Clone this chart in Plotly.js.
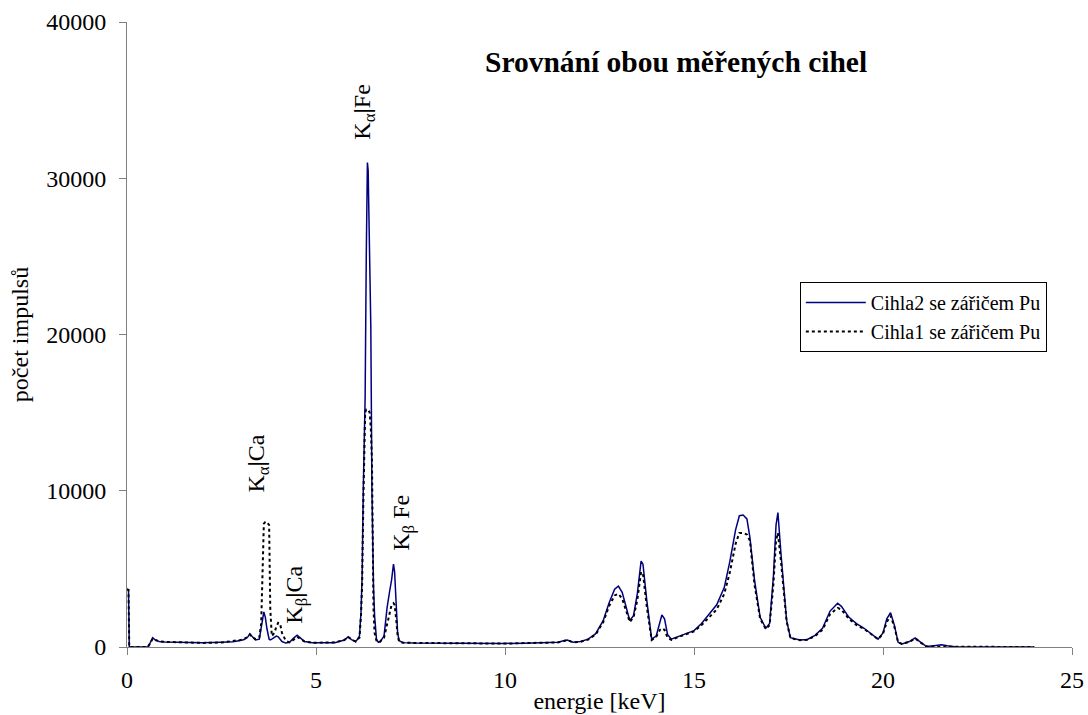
<!DOCTYPE html>
<html>
<head>
<meta charset="utf-8">
<script src="https://cdn.plot.ly/plotly-3.0.1.min.js"></script>
<style>html,body{margin:0;padding:0;background:#fff}#chart{width:1088px;height:715px}</style>
</head>
<body>
<div id="chart"></div>
<script>
// energy [keV]
const energy = [
  0, 0.04, 0.06, 0.55, 0.62, 0.68, 0.75, 0.85, 1.0, 1.5,
  2.0, 2.5, 2.8, 3.0, 3.1, 3.2, 3.25, 3.3, 3.4, 3.5,
  3.55, 3.58, 3.62, 3.66, 3.7, 3.76, 3.79, 3.83, 3.9, 3.95,
  4.0, 4.05, 4.1, 4.2, 4.3, 4.4, 4.5, 4.6, 4.7, 4.9,
  5.2, 5.5, 5.75, 5.85, 5.95, 6.05, 6.1, 6.15, 6.19, 6.22,
  6.25, 6.28, 6.3, 6.33, 6.36, 6.38, 6.42, 6.45, 6.48, 6.5,
  6.52, 6.55, 6.6, 6.65, 6.7, 6.8, 6.88, 6.95, 7.0, 7.05,
  7.08, 7.12, 7.16, 7.2, 7.3, 7.6, 8.0, 8.5, 9.0, 9.5,
  10.0, 10.5, 11.0, 11.4, 11.55, 11.65, 11.8, 12.0, 12.2, 12.4,
  12.6, 12.75, 12.9, 13.0, 13.1, 13.2, 13.3, 13.4, 13.5, 13.6,
  13.65, 13.75, 13.88, 14.0, 14.1, 14.15, 14.22, 14.3, 14.4, 14.6,
  14.8, 15.0, 15.2, 15.4, 15.6, 15.8, 15.95, 16.1, 16.2, 16.3,
  16.4, 16.48, 16.6, 16.75, 16.9, 17.0, 17.1, 17.17, 17.22, 17.3,
  17.38, 17.45, 17.55, 17.8, 18.0, 18.2, 18.4, 18.6, 18.8, 18.9,
  19.1, 19.3, 19.5, 19.7, 19.87, 20.0, 20.1, 20.2, 20.3, 20.4,
  20.5, 20.7, 20.85, 21.0, 21.15, 21.4, 21.55, 21.7, 21.9, 22.5,
  23.0, 24.0
];
// Cihla2 se zářičem Pu
const cihla2 = [
  3700, 3650, 0, 0, 300, 600, 450, 350, 320, 290,
  270, 300, 330, 420, 480, 650, 850, 700, 450, 500,
  1200, 1900, 2250, 1900, 1200, 500, 450, 500, 650, 700,
  650, 500, 350, 250, 300, 550, 750, 550, 350, 280,
  270, 280, 450, 650, 450, 350, 500, 700, 2200, 4500,
  10000, 13500, 16000, 25000, 31000, 30500, 25000, 20500, 10000, 6000,
  4000, 2000, 500, 300, 350, 700, 2500, 3600, 4300, 5300,
  4800, 2800, 900, 400, 280, 250, 240, 260, 230, 220,
  230, 240, 260, 300, 400, 450, 300, 350, 500, 850,
  1700, 2800, 3700, 3900, 3500, 2600, 1700, 2000, 3400, 5500,
  5300, 3000, 500, 700, 1700, 2050, 1800, 800, 500, 700,
  900, 1050, 1500, 2100, 2700, 3800, 5500, 7500, 8400, 8450,
  8200, 7000, 4300, 1900, 1200, 1500, 4500, 7800, 8600, 6000,
  3500, 1700, 600, 450, 480, 750, 1200, 2300, 2800, 2600,
  1900, 1500, 1200, 800, 500, 900, 1800, 2200, 1400, 300,
  200, 350, 580, 300, 30, 100, 150, 80, 10, 0,
  0, 0
];
// Cihla1 se zářičem Pu
const cihla1 = [
  3700, 3650, 0, 0, 250, 550, 450, 370, 330, 300,
  260, 290, 380, 450, 520, 650, 800, 650, 500, 600,
  1500, 4300, 7900, 8000, 8000, 7800, 2500, 700, 900, 1300,
  1550, 1500, 900, 400, 300, 450, 650, 500, 350, 270,
  280, 300, 450, 650, 450, 350, 500, 600, 2000, 4000,
  9000, 14500, 15000, 15200, 15200, 15200, 15000, 14000, 12000, 6000,
  2500, 900, 400, 300, 350, 600, 1500, 2200, 2700, 2800,
  2700, 1800, 700, 350, 280, 260, 250, 240, 240, 230,
  220, 250, 250, 290, 380, 430, 300, 330, 480, 800,
  1600, 2600, 3300, 3400, 3100, 2400, 1600, 1900, 3000, 4800,
  4700, 2600, 450, 650, 1100, 1200, 1100, 600, 450, 650,
  850, 1000, 1400, 1900, 2400, 3400, 4800, 6600, 7300, 7300,
  7200, 6800, 4000, 1800, 1150, 1400, 4000, 6800, 7300, 5500,
  3300, 1650, 580, 440, 460, 700, 1100, 2100, 2500, 2400,
  1800, 1400, 1150, 780, 500, 850, 1600, 2000, 1300, 300,
  200, 330, 550, 280, 30, 20, 20, 10, 0, 0,
  0, 0
];
const seriesNames = ["Cihla2 se zářičem Pu", "Cihla1 se zářičem Pu"];
const peakLabels = ["K<sub>α</sub><b>|</b>Fe", "K<sub>α</sub><b>|</b>Ca", "K<sub>β</sub><b>|</b>Ca", "K<sub>β</sub> Fe"];
const peakX = [6.27, 3.47, 4.47, 7.3];
const peakY = [34200, 11750, 3350, 7950];
const chartTitle = "Srovnání obou měřených cihel";
const xTitle = "energie [keV]";
const yTitle = "počet impulsů";

if (energy.length !== cihla2.length || energy.length !== cihla1.length) {
  console.error("length mismatch", energy.length, cihla2.length, cihla1.length);
}

const FONT = "'Liberation Serif', serif";

const traces = [
  {x: energy, y: cihla2, type: "scatter", mode: "lines", name: seriesNames[0],
   line: {color: "#000080", width: 1.5}},
  {x: energy, y: cihla1, type: "scatter", mode: "lines", name: seriesNames[1],
   line: {color: "#000000", width: 2, dash: "dot"}}
];

const annotations = peakLabels.map((t, i) => ({
  x: peakX[i], y: peakY[i], xref: "x", yref: "y", text: t, showarrow: false,
  textangle: -90, font: {family: FONT, size: 24, color: "#000"},
  xanchor: "center", yanchor: "middle"
}));
annotations.push({
  x: 0.581, y: 0.936, xref: "paper", yref: "paper", text: chartTitle,
  showarrow: false, xanchor: "center", yanchor: "middle",
  font: {family: FONT, size: 29.5, color: "#000", weight: "bold"}
});

const layout = {
  width: 1088, height: 715,
  margin: {l: 127, r: 16, t: 22, b: 68},
  paper_bgcolor: "#fff", plot_bgcolor: "#fff",
  font: {family: FONT, size: 22, color: "#000"},
  showlegend: true,
  legend: {x: 0.712, y: 0.584, xanchor: "left", yanchor: "top",
    bgcolor: "#fff", bordercolor: "#000", borderwidth: 1,
    font: {family: FONT, size: 20, color: "#000"}, itemwidth: 60, tracegroupgap: 0},
  xaxis: {range: [0, 25], dtick: 5, tick0: 0, showgrid: false, zeroline: false,
    showline: true, linecolor: "#808080", linewidth: 1, ticks: "outside", ticklen: 7,
    tickcolor: "#808080", ticklabelstandoff: 4, tickfont: {family: FONT, size: 24, color: "#000"},
    title: {text: xTitle, font: {family: FONT, size: 24, color: "#000"}, standoff: 0}},
  yaxis: {range: [0, 40000], dtick: 10000, tick0: 0, showgrid: false, zeroline: false,
    showline: true, linecolor: "#808080", linewidth: 1, ticks: "outside", ticklen: 7,
    tickcolor: "#808080", ticklabelstandoff: 8, tickformat: "d", tickfont: {family: FONT, size: 24, color: "#000"},
    title: {text: yTitle, font: {family: FONT, size: 24, color: "#000"}, standoff: 10}},
  annotations: annotations
};

Plotly.newPlot("chart", traces, layout, {displayModeBar: false, staticPlot: true});
</script>
</body>
</html>
